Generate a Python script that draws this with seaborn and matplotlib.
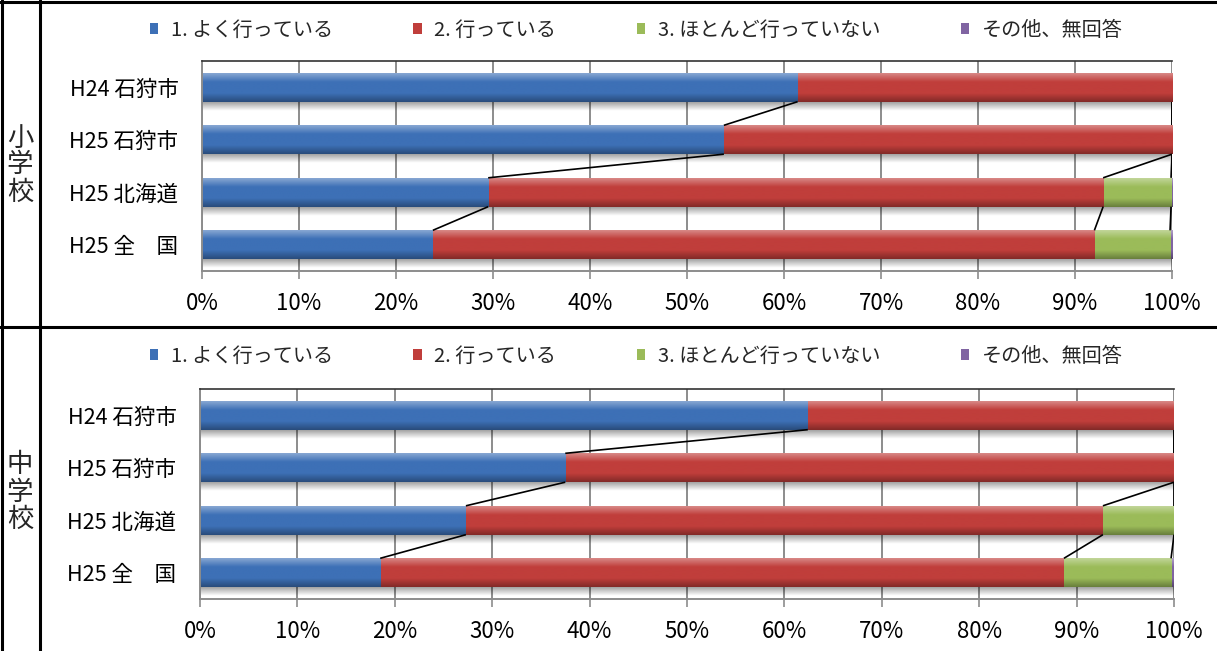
import numpy as np
import pandas as pd
import matplotlib
matplotlib.use("Agg")
import matplotlib.pyplot as plt
import seaborn as sns
from matplotlib.colors import to_rgb
from matplotlib.lines import Line2D
from matplotlib.patches import Patch

# ---- data -------------------------------------------------------------
categories = ["H24 石狩市", "H25 石狩市", "H25 北海道", "H25 全　国"]
series_names = ["1. よく行っている", "2. 行っている", "3. ほとんど行っていない", "その他、無回答"]

# 小学校 (%)
elem_often = [61.4, 53.8, 29.5, 23.8]
elem_sometimes = [38.6, 46.2, 63.4, 68.2]
elem_rarely = [0.0, 0.0, 7.0, 7.8]
elem_other = [0.0, 0.0, 0.1, 0.2]

# 中学校 (%)
jhs_often = [62.4, 37.5, 27.3, 18.5]
jhs_sometimes = [37.6, 62.5, 65.4, 70.2]
jhs_rarely = [0.0, 0.0, 7.3, 11.0]
jhs_other = [0.0, 0.0, 0.0, 0.3]

tick_values = [0, 10, 20, 30, 40, 50, 60, 70, 80, 90, 100]
tick_labels = [f"{v}%" for v in tick_values]

school_labels = ["小\n学\n校", "中\n学\n校"]

series_colors = ["#3D70B6", "#C03E3B", "#9BBB59", "#8064A2"]

# ---- style ------------------------------------------------------------
sns.set_theme(style="white")
plt.rcParams["font.family"] = ["Noto Sans CJK JP", "DejaVu Sans"]

W, H = 1217, 651
fig = plt.figure(figsize=(W / 100, H / 100), dpi=100)
fig.patch.set_facecolor("white")

BAR_H = 0.55


def shade(color, t):
    """Bevel-like vertical shading: light at the top, dark at the bottom."""
    base = np.array(to_rgb(color))
    if t < 0.3:
        k = (0.3 - t) / 0.3
        return base + (1 - base) * 0.38 * k
    if t > 0.7:
        k = (t - 0.7) / 0.3
        return base * (1 - 0.32 * k)
    return base


def gradient_image(color, n=40):
    rows = np.array([shade(color, t) for t in np.linspace(0, 1, n)])
    return rows[:, None, :]


def draw_panel(ax, often, sometimes, rarely, other):
    df = pd.DataFrame({
        "category": categories,
        "often": often,
        "sometimes": sometimes,
        "rarely": rarely,
        "other": other,
    })
    parts = ["often", "sometimes", "rarely", "other"]
    cum = df[parts].cumsum(axis=1)

    # stacked bars: draw the cumulative totals from the outermost layer inward
    layer_patches = []
    for k in reversed(range(len(parts))):
        n0 = len(ax.patches)
        sns.barplot(data=cum.assign(category=df["category"]), x=parts[k], y="category",
                    order=categories, color=series_colors[k], orient="h",
                    width=BAR_H, linewidth=0, saturation=1, ax=ax)
        layer_patches.append((k, ax.patches[n0:]))

    ax.set_xlim(0, 100)
    ax.set_ylim(len(categories) - 0.5, -0.5)

    # soft shadow under each full bar
    total_patches = layer_patches[0][1]
    for p in total_patches:
        x0, y0 = p.get_x(), p.get_y()
        w, h = p.get_width(), p.get_height()
        alpha = np.linspace(0.36, 0.0, 20)
        img = np.zeros((20, 1, 4))
        img[..., 3] = alpha[:, None]
        ax.imshow(img, extent=(x0, x0 + w, y0 + h + 0.17, y0 + h), origin="upper",
                  aspect="auto", zorder=1.4, interpolation="bilinear")

    # shaded fill for every bar segment
    z = 2.0
    for k, patches in layer_patches:
        img = gradient_image(series_colors[k])
        for p in patches:
            x0, y0 = p.get_x(), p.get_y()
            w, h = p.get_width(), p.get_height()
            if w <= 0:
                continue
            im = ax.imshow(img, extent=(x0, x0 + w, y0 + h, y0), origin="upper",
                           aspect="auto", zorder=z, interpolation="bilinear")
            im.set_clip_path(p)
        z += 0.1

    # series lines between neighbouring bars
    for k in range(3):
        vals = cum[parts[k]].values
        for i in range(len(categories) - 1):
            ax.plot([vals[i], vals[i + 1]], [i + BAR_H / 2, i + 1 - BAR_H / 2],
                    color="black", lw=1.2, zorder=3, solid_capstyle="butt")

    ax.set_xlim(0, 100)
    ax.set_ylim(len(categories) - 0.5, -0.5)
    ax.set_xlabel("")
    ax.set_ylabel("")
    ax.set_xticks(tick_values)
    ax.set_xticklabels(tick_labels)
    ax.tick_params(axis="x", bottom=True, length=6, width=1.2, color="#8C8C8C",
                   labelsize=16, pad=9, labelcolor="black")
    ax.tick_params(axis="y", left=False, length=0, pad=17, labelsize=15.5,
                   labelcolor="black")
    ax.set_axisbelow(True)
    ax.grid(axis="x", color="#8C8C8C", lw=1.4)
    ax.grid(axis="y", visible=False)
    for side in ["left", "bottom"]:
        ax.spines[side].set_color("#8C8C8C")
        ax.spines[side].set_linewidth(1.4)
    ax.spines["top"].set_color("#333333")
    ax.spines["top"].set_linewidth(1.2)
    ax.spines["right"].set_visible(False)


ax_top = fig.add_axes([202 / W, 1 - 271 / H, 970 / W, 210 / H])
draw_panel(ax_top, elem_often, elem_sometimes, elem_rarely, elem_other)

ax_bot = fig.add_axes([200 / W, 1 - 599 / H, 974 / W, 210 / H])
draw_panel(ax_bot, jhs_often, jhs_sometimes, jhs_rarely, jhs_other)

# legends
handles = [Patch(facecolor=c, edgecolor="none") for c in series_colors]
for yc in [30, 356]:
    fig.legend(handles, series_names, loc="center", bbox_to_anchor=(636 / W, 1 - yc / H),
               ncol=4, frameon=False, fontsize=14.5, handlelength=0.42,
               handleheight=0.42, handletextpad=0.62, columnspacing=4.0,
               borderaxespad=0, borderpad=0)

# school-level labels on the left strip
fig.text(20 / W, 1 - 165 / H, school_labels[0], ha="center", va="center",
         fontsize=19, linespacing=1.0)
fig.text(20 / W, 1 - 492 / H, school_labels[1], ha="center", va="center",
         fontsize=19, linespacing=1.0)

# table frame
lw = 2.2
fig.add_artist(Line2D([0, 1], [1 - 1.5 / H] * 2, transform=fig.transFigure, color="black", lw=lw))
fig.add_artist(Line2D([0, 1], [1 - 327 / H] * 2, transform=fig.transFigure, color="black", lw=lw))
fig.add_artist(Line2D([1.5 / W] * 2, [0, 1], transform=fig.transFigure, color="black", lw=lw))
fig.add_artist(Line2D([39.5 / W] * 2, [0, 1], transform=fig.transFigure, color="black", lw=lw))

fig.savefig("out.png", dpi=100, facecolor="white")
